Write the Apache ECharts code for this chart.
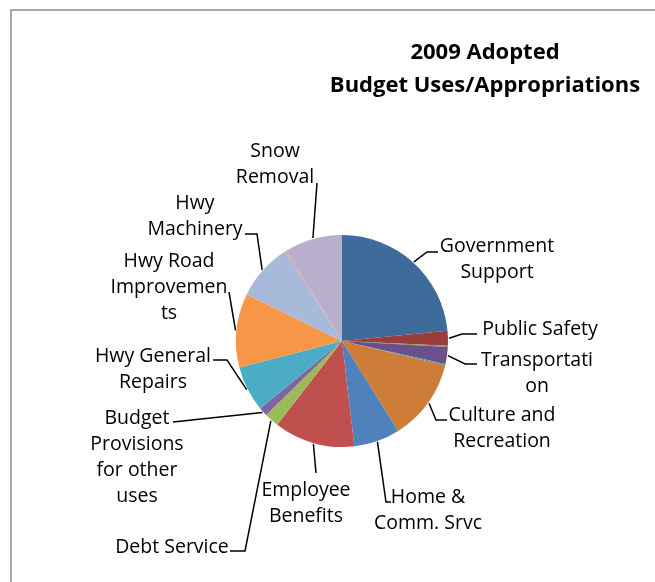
<!DOCTYPE html>
<html><head><meta charset="utf-8">
<script src="https://cdn.jsdelivr.net/npm/echarts@6/dist/echarts.min.js"></script>
<style>html,body{margin:0;padding:0;background:#fff}#c{width:655px;height:582px}</style>
</head><body><div id="c"></div>
<script>
// ---- data ----
const categories = ['Government Support','Public Safety','Health','Transportation','Economic Assistance','Culture and Recreation','Home & Comm. Srvc','Employee Benefits','Debt Service','Budget Provisions for other uses','Hwy General Repairs','Hwy Road Improvements','Hwy Machinery','Hwy Brush and Weeds','Snow Removal'];
const values = [23.47,2.25,0.17,2.58,0.19,12.44,7.03,12.33,2.22,1.33,6.94,11.25,8.75,0.28,8.75];
const labelTexts = ['Government\nSupport','Public Safety','','Transportati\non','','Culture and\nRecreation','Home &\nComm. Srvc','Employee\nBenefits','Debt Service','Budget\nProvisions\nfor other\nuses','Hwy General\nRepairs','Hwy Road\nImprovemen\nts','Hwy\nMachinery','','Snow\nRemoval'];
const titleLines = ['2009 Adopted','Budget Uses/Appropriations'];

// ---- styles / layout ----
const colors = ['#3F6A9C','#9B3D3B','#7F9B45','#6A508C','#3A93AB','#CE7D38','#4F81BD','#C0504D','#9BBB59','#8064A2','#4BACC6','#F79646','#A8BADA','#D9A09E','#B9AECB'];
const CX = 342, CY = 341, R = 106;
// label centre [x, y] and leader elbow points
const labelPlace = [
  [497,259,[[427,252],[438,252]]],
  [540,329,[[462,334],[477,334]]],
  null,
  [537,373,[[465,364],[477,364]]],
  null,
  [502,428,[[436,420],[447,420]]],
  [428,510,[[386,502],[391,502]]],
  [306,503,[[316,473]]],
  [172,547,[[245,551],[230,551]]],
  [137,457,[[173,422]]],
  [153,369,[[227,360],[213,360]]],
  [169,287,[[229,292]]],
  [195,216,[[257,234],[245,234]]],
  null,
  [275,164,[[317,183]]]
];

const total = values.reduce((a,b)=>a+b,0);
const midAngles = [];
{ let c = 0; values.forEach(v => { midAngles.push((c + v/2)/total*2*Math.PI); c += v; }); }

const FONT = 'Open Sans';
const chart = echarts.init(document.getElementById('c'), null, {renderer:'canvas'});
chart.setOption({
  animation:false,
  backgroundColor:'#fff',
  graphic:[
    {type:'rect', shape:{x:11,y:10,width:700,height:700}, style:{fill:'none',stroke:'#8c8c8c',lineWidth:1.5}, z:-1},
    {type:'text', x:485, y:53, style:{text:titleLines[0], textAlign:'center', textVerticalAlign:'middle', font:'bold 22px "Open Sans"', fill:'#000'}},
    {type:'text', x:485, y:86, style:{text:titleLines[1], textAlign:'center', textVerticalAlign:'middle', font:'bold 22px "Open Sans"', fill:'#000'}}
  ],
  series:[{
    type:'pie',
    center:[CX,CY],
    radius:R,
    startAngle:90,
    clockwise:true,
    avoidLabelOverlap:false,
    itemStyle:{borderWidth:0},
    emphasis:{disabled:true},
    label:{show:true, position:'outside', color:'#000', fontFamily:FONT, fontSize:19.5, lineHeight:26, align:'center',
      formatter:p=>labelTexts[p.dataIndex]},
    labelLine:{show:true, lineStyle:{color:'#000', width:1.5}},
    labelLayout:function(p){
      const lp = labelPlace[p.dataIndex];
      if(!lp) return {};
      const a = midAngles[p.dataIndex];
      const start = [CX + (R+1)*Math.sin(a), CY - (R+1)*Math.cos(a)];
      return {x:lp[0], y:lp[1], align:'center', verticalAlign:'middle', labelLinePoints:[start].concat(lp[2])};
    },
    data:categories.map((n,i)=>({
      name:n, value:values[i], itemStyle:{color:colors[i]},
      label:{show:!!labelTexts[i]}, labelLine:{show:!!labelTexts[i]}
    }))
  }]
});
</script></body></html>
